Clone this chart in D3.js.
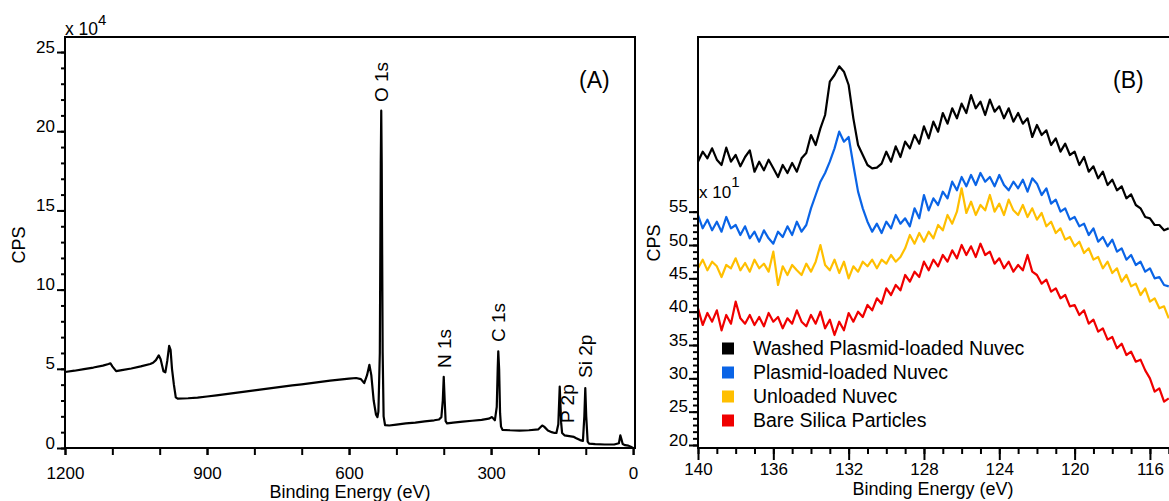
<!DOCTYPE html>
<html><head><meta charset="utf-8">
<script src="https://cdn.jsdelivr.net/npm/d3@7"></script>
<style>html,body{margin:0;padding:0;background:#fff;overflow:hidden}svg{display:block}</style>
</head><body><svg id="c" width="1169" height="501"></svg>
<script>
// ---------- Panel A: survey spectrum (CPS x 10^4) ----------
const surveyEnergy = [1200,1180,1160,1140,1120,1108,1104,1100,1092,1080,1060,1040,1020,1014,1008,1002,998,992,988,984,980,977,974,970,966,962,940,920,900,880,860,840,820,800,780,760,740,720,700,680,660,640,620,600,585,575,568,562,557,553,548,543,540,538,535,533,532,531,529,527,524,515,500,480,460,440,420,410,405,402,400,398,396,393,380,360,340,320,305,298,292,288,286,284.8,283,281,279,276,260,240,220,200,192,188,180,172,166,162,158,155,152,150,145,135,125,120,112,106,103,101,99,96,93,80,60,40,30,27,25,22,17,10,5,0];
const surveyCps = [4.80,4.88,4.98,5.08,5.20,5.30,5.35,5.15,4.85,4.92,5.02,5.15,5.30,5.38,5.55,5.85,5.6,4.85,4.78,5.5,6.45,6.2,5.0,4.0,3.2,3.12,3.14,3.18,3.25,3.32,3.40,3.48,3.56,3.64,3.72,3.80,3.88,3.95,4.02,4.10,4.18,4.25,4.32,4.38,4.42,4.35,4.1,4.6,5.25,4.6,3.0,2.1,1.95,2.3,6.0,18.0,21.3,18.0,6.0,2.0,1.45,1.42,1.48,1.55,1.60,1.68,1.75,1.80,1.95,3.0,4.5,3.0,1.7,1.55,1.6,1.66,1.72,1.78,1.85,1.95,1.75,2.6,5.0,6.1,5.0,2.2,1.35,1.15,1.12,1.10,1.12,1.18,1.42,1.35,1.1,1.0,0.95,0.95,1.5,3.88,1.6,0.95,0.8,0.75,0.7,0.62,0.5,0.45,2.0,3.78,2.0,0.4,0.28,0.25,0.22,0.22,0.3,0.8,0.6,0.25,0.18,0.15,0.08,0.0];
const surveyXTicks = [1200,900,600,300,0];
const surveyYTicks = [0,5,10,15,20,25];
const peakLabels = ["O 1s","N 1s","C 1s","P 2p","Si 2p"];

// ---------- Panel B: P 2p / Si 2s region (CPS x 10^1) ----------
const seriesNames = ["Washed Plasmid-loaded Nuvec","Plasmid-loaded Nuvec","Unloaded Nuvec","Bare Silica Particles"];
const seriesColors = ["#000000","#0a64e6","#ffbf00","#f00000"];
const washed = [62.5,64.0,63.0,64.5,62.8,62.0,64.6,62.5,63.5,61.8,
63.2,64.2,61.0,62.5,61.2,62.8,61.5,60.2,62.0,60.8,
62.3,61.0,63.0,63.8,66.5,65.0,67.5,69.5,74.5,75.5,
76.8,76.0,74.0,69.0,65.0,63.5,62.0,61.5,61.6,62.2,
64.0,62.5,64.8,63.2,65.5,64.5,66.5,65.2,67.8,66.0,
68.5,67.0,69.8,68.2,70.5,69.0,71.2,69.8,72.5,70.5,
71.5,69.5,71.8,70.0,70.8,69.0,70.5,68.5,69.8,68.2,
69.0,66.2,68.0,66.5,67.2,65.0,66.0,64.0,65.2,63.5,
64.0,62.0,63.2,61.0,61.8,60.0,61.0,59.0,59.8,58.2,
58.8,57.0,57.6,56.0,55.5,54.2,54.0,53.0,53.0,52.2,
52.5];
const plasmid = [54.5,52.5,53.8,52.2,53.5,52.0,54.2,52.5,53.0,51.5,
52.8,51.0,52.0,50.5,52.2,51.0,50.2,52.0,51.2,52.8,
51.5,53.5,52.0,53.0,55.5,57.5,59.5,60.8,62.5,64.5,
67.0,65.5,66.2,62.0,58.0,55.5,53.5,52.0,53.2,51.8,
53.5,52.5,54.5,53.2,54.0,52.8,55.5,54.0,57.5,55.2,
57.0,56.0,58.0,57.0,59.5,58.2,60.2,58.8,60.5,59.0,
60.8,59.5,60.2,58.8,60.5,59.0,58.2,59.5,58.5,59.8,
58.0,60.0,59.2,57.5,58.5,56.2,56.8,55.0,55.5,53.8,
54.2,52.8,53.2,51.5,52.5,50.5,51.2,49.8,50.8,49.0,
49.5,47.8,48.5,47.0,47.5,46.0,46.5,45.0,45.2,44.0,
43.8];
const unloaded = [46.5,47.8,46.2,47.5,46.8,45.2,47.0,46.5,48.0,46.2,
47.3,46.0,47.8,46.5,47.2,46.0,49.0,44.0,46.8,45.5,
47.0,46.2,45.5,47.2,46.0,47.5,50.0,47.0,46.2,47.8,
45.8,47.5,45.0,46.8,46.0,47.5,46.8,47.8,46.5,47.8,
47.2,48.5,47.5,48.2,49.5,51.5,50.2,51.8,50.5,52.0,
51.0,53.0,52.2,54.5,53.2,55.0,58.5,54.8,56.5,54.5,
56.0,55.2,57.5,55.0,56.2,54.5,56.8,55.2,54.5,56.0,
54.2,55.5,53.8,54.8,52.8,53.5,51.8,52.5,50.8,51.2,
49.8,50.5,48.8,49.5,47.8,48.2,46.5,47.5,45.8,46.5,
44.5,45.5,43.8,44.2,42.5,43.5,41.5,42.0,40.5,40.8,
39.0];
const bare = [40.5,38.0,39.8,38.5,40.2,37.2,39.5,38.2,41.5,39.0,
38.2,39.5,38.0,39.2,37.8,39.8,38.5,39.2,37.5,39.0,
38.2,40.2,38.5,37.8,39.5,38.2,40.0,37.5,38.8,36.5,
38.5,37.2,39.8,38.5,40.0,39.2,41.0,40.2,42.0,41.2,
43.5,42.5,44.0,43.2,45.5,44.5,46.0,45.2,47.5,46.2,
47.8,46.8,48.5,47.5,49.2,48.0,50.0,48.5,49.8,48.2,
50.2,48.5,49.0,47.2,48.0,46.5,47.5,46.0,47.0,46.2,
48.5,46.0,45.5,44.2,44.8,43.0,43.5,42.0,42.5,40.8,
41.0,39.5,40.2,38.2,38.8,37.0,37.5,35.8,36.2,34.5,
35.2,33.5,34.0,32.5,32.8,31.2,30.0,28.0,28.5,26.5,
27.0];
const detailStart = 140, detailStep = 0.25;
const detailXTicks = [140,136,132,128,124,120,116];
const detailYTicks = [20,25,30,35,40,45,50,55];

// ---------- drawing ----------
const FONT = "'Liberation Sans', Arial, Helvetica, sans-serif";
const svg = d3.select("#c");
svg.append("rect").attr("width",1169).attr("height",501).attr("fill","#fff");

// ===== Panel A =====
const ax = d3.scaleLinear().domain([1200,-4]).range([65,635]);
const ay = d3.scaleLinear().domain([0,25.95]).range([448,37]);
const gA = svg.append("g");

function styleAxis(g, fs){
  g.select(".domain").remove();
  g.selectAll(".tick line").attr("stroke","#000").attr("stroke-width",2);
  g.selectAll("text").attr("font-family",FONT).attr("font-size",fs).attr("fill","#000");
}
gA.append("g").attr("transform","translate(0,448)")
  .call(d3.axisBottom(ax).tickValues(d3.range(0,1201,100)).tickSize(7).tickFormat(""))
  .call(g=>styleAxis(g,17));
gA.append("g").attr("transform","translate(0,448)")
  .call(d3.axisBottom(ax).tickValues(surveyXTicks).tickSize(7).tickPadding(12).tickFormat(d3.format("d")))
  .call(g=>styleAxis(g,17));
gA.append("g").attr("transform","translate(65,0)")
  .call(d3.axisLeft(ay).tickValues(d3.range(0,26,1)).tickSize(4).tickFormat(""))
  .call(g=>styleAxis(g,17));
gA.append("g").attr("transform","translate(65,0)")
  .call(d3.axisLeft(ay).tickValues(surveyYTicks).tickSize(8).tickPadding(2).tickFormat(d3.format("d")))
  .call(g=>{styleAxis(g,17); g.selectAll("text").attr("dy","0");});

const lineA = d3.line().x((d,i)=>ax(surveyEnergy[i])).y(d=>ay(d));
gA.append("path").datum(surveyCps).attr("d",lineA).attr("fill","none")
  .attr("stroke","#000").attr("stroke-width",2.2).attr("stroke-linejoin","round");

gA.append("rect").attr("x",65).attr("y",37).attr("width",570).attr("height",411)
  .attr("fill","none").attr("stroke","#000").attr("stroke-width",2);

const peakPos = [[532,102],[399,368],[284.8,342],[140,423],[101,378]];
peakLabels.forEach((t,i)=>{
  const x = ax(peakPos[i][0]) + 7;
  gA.append("text").attr("transform",`translate(${x},${peakPos[i][1]}) rotate(-90)`)
    .attr("font-family",FONT).attr("font-size",19).text(t);
});
gA.append("text").attr("x",579).attr("y",88).attr("font-family",FONT).attr("font-size",23).text("(A)");
const mA = gA.append("text").attr("x",65).attr("y",35).attr("font-family",FONT).attr("font-size",17.5);
mA.append("tspan").text("x 10");
mA.append("tspan").attr("dy",-10).attr("font-size",15).text("4");
gA.append("text").attr("transform","translate(25,245) rotate(-90)").attr("text-anchor","middle")
  .attr("font-family",FONT).attr("font-size",18).text("CPS");
gA.append("text").attr("x",350).attr("y",498).attr("text-anchor","middle")
  .attr("font-family",FONT).attr("font-size",18).text("Binding Energy (eV)");

// ===== Panel B =====
const bx = d3.scaleLinear().domain([140,114]).range([698,1187.6]);
const by = d3.scaleLinear().domain([19.55,81.2]).range([448,37]);
const gB = svg.append("g");
svg.append("defs").append("clipPath").attr("id","clipB")
  .append("rect").attr("x",698).attr("y",37).attr("width",490).attr("height",411);

gB.append("g").attr("transform","translate(0,448)")
  .call(d3.axisBottom(bx).tickValues(d3.range(115,141,1)).tickSize(6).tickFormat(""))
  .call(g=>styleAxis(g,16.5));
gB.append("g").attr("transform","translate(0,448)")
  .call(d3.axisBottom(bx).tickValues(detailXTicks).tickSize(12).tickPadding(3).tickFormat(d3.format("d")))
  .call(g=>styleAxis(g,17));
gB.append("g").attr("transform","translate(698,0)")
  .call(d3.axisLeft(by).tickValues(d3.range(20,56,1)).tickSize(5).tickFormat(""))
  .call(g=>styleAxis(g,16.5));
gB.append("g").attr("transform","translate(698,0)")
  .call(d3.axisLeft(by).tickValues(detailYTicks).tickSize(9).tickPadding(1).tickFormat(d3.format("d")))
  .call(g=>{styleAxis(g,17); g.selectAll("text").attr("dy","0");});

const seriesData = [washed, plasmid, unloaded, bare];
const lineB = d3.line().x((d,i)=>bx(detailStart - detailStep*i)).y(d=>by(d));
const plotB = gB.append("g").attr("clip-path","url(#clipB)");
[3,2,1,0].forEach(k=>{
  plotB.append("path").datum(seriesData[k]).attr("d",lineB).attr("fill","none")
    .attr("stroke",seriesColors[k]).attr("stroke-width",2.2).attr("stroke-linejoin","round");
});

gB.append("rect").attr("x",698).attr("y",37).attr("width",600).attr("height",411)
  .attr("fill","none").attr("stroke","#000").attr("stroke-width",2);

seriesNames.forEach((n,i)=>{
  const yb = 355 + i*24;
  gB.append("rect").attr("x",722).attr("y",yb-12.5).attr("width",12).attr("height",12).attr("fill",seriesColors[i]);
  gB.append("text").attr("x",753).attr("y",yb).attr("font-family",FONT).attr("font-size",19.5).text(n);
});
gB.append("text").attr("x",1113).attr("y",88).attr("font-family",FONT).attr("font-size",23).text("(B)");
const mB = gB.append("text").attr("x",699).attr("y",198).attr("font-family",FONT).attr("font-size",17);
mB.append("tspan").text("x 10");
mB.append("tspan").attr("dy",-11).attr("font-size",15).text("1");
gB.append("text").attr("transform","translate(660,243) rotate(-90)").attr("text-anchor","middle")
  .attr("font-family",FONT).attr("font-size",18).text("CPS");
gB.append("text").attr("x",933).attr("y",495).attr("text-anchor","middle")
  .attr("font-family",FONT).attr("font-size",18).text("Binding Energy (eV)");
</script></body></html>
